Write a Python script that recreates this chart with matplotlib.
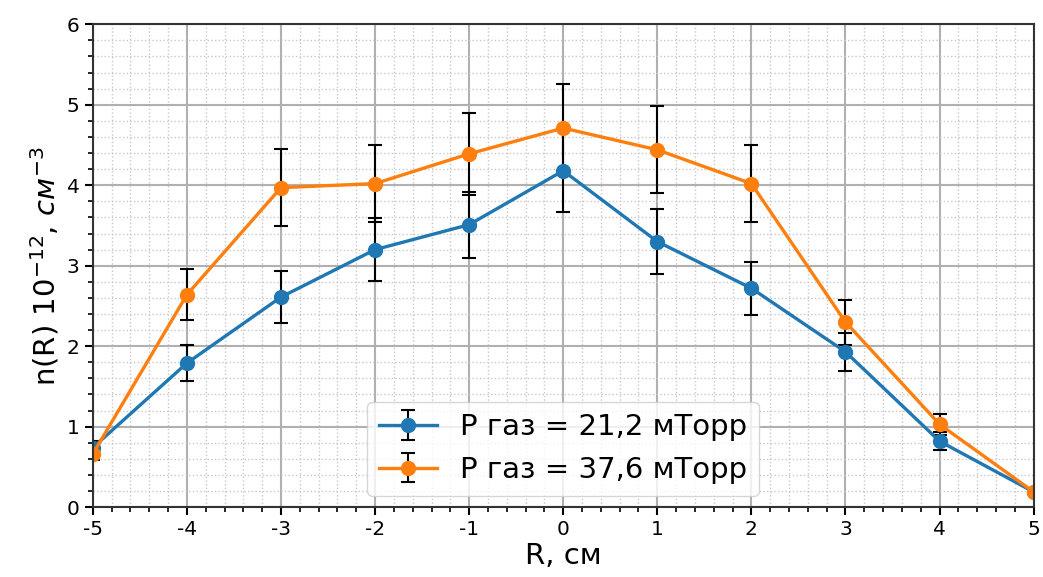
import matplotlib.pyplot as plt
from matplotlib.ticker import MultipleLocator

# радиальный профиль концентрации для двух давлений газа
R = [-5, -4, -3, -2, -1, 0, 1, 2, 3, 4, 5]

n_21 = [0.74, 1.79, 2.61, 3.20, 3.51, 4.18, 3.30, 2.72, 1.93, 0.82, 0.19]
err_21 = [0.08, 0.22, 0.32, 0.39, 0.41, 0.51, 0.40, 0.33, 0.24, 0.11, 0.03]

n_37 = [0.66, 2.64, 3.97, 4.02, 4.39, 4.71, 4.44, 4.02, 2.30, 1.03, 0.19]
err_37 = [0.08, 0.32, 0.48, 0.48, 0.51, 0.55, 0.54, 0.48, 0.28, 0.13, 0.03]

labels = ['P газ = 21,2 мТорр', 'P газ = 37,6 мТорр']
x_ticks = [str(r) for r in R]

plt.rcParams['axes.unicode_minus'] = False

fig, ax = plt.subplots(figsize=(10.43, 5.77), dpi=100)
fig.subplots_adjust(left=0.089, right=0.991, top=0.958, bottom=0.121)

for n, err, label in zip([n_21, n_37], [err_21, err_37], labels):
    ax.errorbar(R, n, yerr=err, fmt='-o', lw=2.4, ms=10,
                ecolor='black', elinewidth=1.5, capsize=5, capthick=1.5,
                label=label)

ax.set_xlim(-5, 5)
ax.set_ylim(0, 6)
ax.set_xticks(R)
ax.set_xticklabels(x_ticks)
ax.xaxis.set_minor_locator(MultipleLocator(0.2))
ax.yaxis.set_minor_locator(MultipleLocator(0.2))

ax.grid(which='major', color='#b0b0b0', lw=1.5)
ax.grid(which='minor', color='#c8c8c8', lw=1.0, linestyle=':')
ax.set_axisbelow(True)

ax.tick_params(which='major', labelsize=14.5, length=6, width=1.5)
ax.tick_params(which='minor', length=3.5, width=1.2)
for side in ax.spines.values():
    side.set_linewidth(1.5)
    side.set_color('#333333')

ax.set_xlabel('R, см', fontsize=21, labelpad=2)
ax.set_ylabel('n(R) 10$^{-12}$, $см^{-3}$', fontsize=21)

ax.legend(loc='lower center', fontsize=21, borderaxespad=0.4)

fig.savefig('out.png', dpi=100)
